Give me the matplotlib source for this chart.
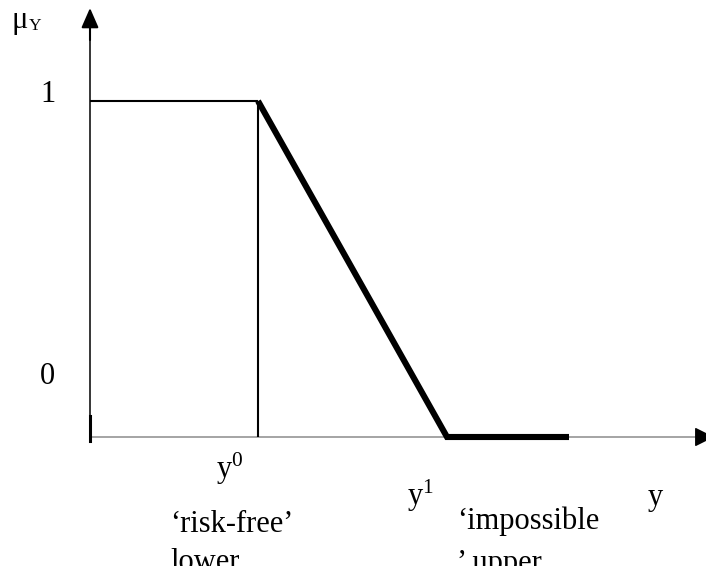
import matplotlib
matplotlib.use("Agg")
import matplotlib.pyplot as plt

plt.rcParams['font.family'] = 'Liberation Serif'
plt.rcParams['mathtext.fontset'] = 'custom'
plt.rcParams['mathtext.rm'] = 'Liberation Serif'
plt.rcParams['mathtext.it'] = 'Liberation Serif:italic'

# membership function of the output y
y0 = 168        # risk-free lower bound
y1 = 357        # impossible upper bound
y_end = 479
y_pts = [0, y0, y1, y_end]
mu_pts = [1, 1, 0, 0]

W, H = 706, 566
ox, oy = 90, 437          # origin in pixels
mu_scale = 336            # pixels per unit of membership

fig = plt.figure(figsize=(W / 100, H / 100), dpi=100)
ax = fig.add_axes([0, 0, 1, 1])
ax.set_xlim(-ox, W - ox)
ax.set_ylim(-(H - oy) / mu_scale, oy / mu_scale)
ax.axis('off')


def px(x, y):
    # pixel position -> data coords
    return x - ox, (oy - y) / mu_scale


# axes
ax.plot([0, 612], [0, 0], color='#8c8c8c', lw=1.1, solid_capstyle='butt')
ax.plot([0, 0], [px(0, 441)[1], px(0, 30)[1]], color='black', lw=1.1)
ax.plot([0, 0], [px(0, 441)[1], px(0, 416)[1]], color='black', lw=2.2)
ax.annotate('', xy=px(90, 8), xytext=px(90, 40), annotation_clip=False,
            arrowprops=dict(arrowstyle='-|>,head_length=0.8,head_width=0.35',
                            mutation_scale=15, color='black', lw=1.5,
                            shrinkA=0, shrinkB=0))
ax.annotate('', xy=px(714, 437), xytext=px(700, 437), annotation_clip=False,
            arrowprops=dict(arrowstyle='-|>,head_length=0.8,head_width=0.4',
                            mutation_scale=15, color='black', lw=1.0,
                            shrinkA=0, shrinkB=0))

# thin part: plateau and the y0 drop line
ax.plot(y_pts[:2], mu_pts[:2], color='black', lw=1.5, solid_capstyle='butt')
ax.plot([y0, y0], [0, 1], color='black', lw=1.5, solid_capstyle='butt')
# thick part: falling edge and zero level
ax.plot(y_pts[1:], mu_pts[1:], color='black', lw=4.4,
        solid_capstyle='butt', solid_joinstyle='miter')

fs = 22
kw = dict(ha='left', va='baseline', fontsize=fs, color='black')
ax.text(*px(12, 28), 'μ', ha='left', va='baseline', fontsize=22)
ax.text(*px(29, 30), 'Y', ha='left', va='baseline', fontsize=12.5)
ax.text(*px(40, 102), '1', **kw)
ax.text(*px(40, 384), '0', **kw)
ax.text(*px(216, 478), r'y$^{0}$', **kw)
ax.text(*px(170, 532), '‘risk-free’', **kw)
ax.text(*px(170, 570), 'lower', **kw)
ax.text(*px(407, 505), r'y$^{1}$', **kw)
ax.text(*px(457, 529), '‘impossible', **kw)
ax.text(*px(457, 571), '’ upper', **kw)
ax.text(*px(648, 505), 'y', **kw)

fig.savefig('out.png', dpi=100)
